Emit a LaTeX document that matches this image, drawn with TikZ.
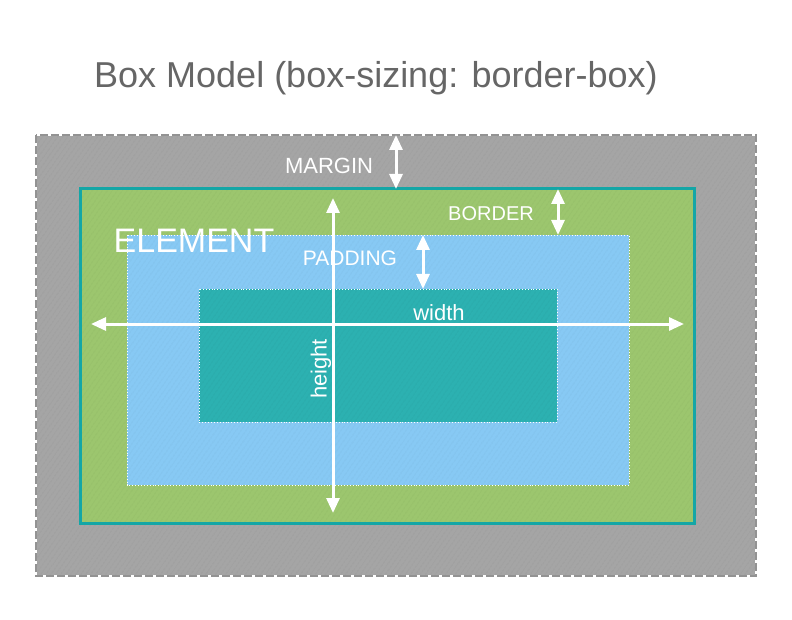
\documentclass[tikz,border=0pt]{standalone}
\usepackage{fontspec}
\setmainfont{Liberation Sans}
\usetikzlibrary{arrows.meta,patterns.meta}
\definecolor{marginc}{HTML}{A5A5A5}
\definecolor{borderc}{HTML}{9CC66E}
\definecolor{paddingc}{HTML}{87C9F4}
\definecolor{contentc}{HTML}{2CB1B1}
\definecolor{edgec}{HTML}{14A6A6}
\definecolor{titlec}{HTML}{666666}
\begin{document}
\begin{tikzpicture}[x=1pt,y=-1pt,
  hatch/.style={pattern={Lines[angle=55,distance=4pt,line width=0.7pt]},pattern color=black,fill opacity=0.06},
  dimarrow/.style={draw=white,line width=3pt,{Triangle[length=15pt,width=13pt]}-{Triangle[length=15pt,width=13pt]}},
  lbl/.style={text=white,inner sep=0pt,anchor=center},
  boxlbl/.style={lbl,font=\fontsize{20}{22}\selectfont}]
\useasboundingbox (0,0) rectangle (792,620);
% title
\node[text=titlec,font=\fontsize{36}{40}\selectfont,inner sep=0pt] (title) at (376,78) {Box Model (box-sizing: border-box)};
% margin box
\fill[marginc] (36,135) rectangle (756,576);
\fill[hatch] (36,135) rectangle (756,576);
\draw[white,line width=1.8pt] (36,135) rectangle (756,576);
\draw[gray!85,line width=1.8pt,dash pattern=on 8pt off 3pt] (36,135) rectangle (756,576);
% border box
\fill[borderc] (80,189) rectangle (694,523);
\fill[hatch] (80,189) rectangle (694,523);
\draw[edgec,line width=3pt] (80,189) rectangle (694,523);
% padding box
\fill[paddingc] (127,235) rectangle (629,485);
\fill[hatch] (127,235) rectangle (629,485);
\draw[white,line width=0.9pt,dotted] (127,235) rectangle (629,485);
% content box
\fill[contentc] (199,289) rectangle (557,422);
\fill[hatch] (199,289) rectangle (557,422);
\draw[white,line width=0.9pt,dotted] (199,289) rectangle (557,422);
% coordinates for arrows
\coordinate (wl) at (91,324);
\coordinate (wr) at (684,324);
\coordinate (ht) at (333,198);
\coordinate (hb) at (333,513);
\coordinate (mt) at (396,135);
\coordinate (mb) at (396,189);
\coordinate (bt) at (558,189);
\coordinate (bb) at (558,235);
\coordinate (pt) at (423,235);
\coordinate (pb) at (423,289);
\draw[dimarrow] (wl) -- (wr);
\draw[dimarrow] (hb) -- (ht);
\draw[dimarrow] (mt) -- (mb);
\draw[dimarrow] (bt) -- (bb);
\draw[dimarrow] (pt) -- (pb);
% labels
\node[boxlbl,font=\fontsize{22}{24}\selectfont] (margin) at (329,166) {MARGIN};
\node[boxlbl] (border) at (491,214) {BORDER};
\node[lbl,font=\fontsize{34}{36}\selectfont] (element) at (194,241) {ELEMENT};
\node[boxlbl,font=\fontsize{21}{23}\selectfont] (padding) at (350,258) {PADDING};
\node[lbl,font=\fontsize{22}{24}\selectfont] (width) at (439,313) {width};
\node[lbl,font=\fontsize{22}{24}\selectfont,rotate=90] (height) at (321,369) {height};
\end{tikzpicture}
\end{document}
